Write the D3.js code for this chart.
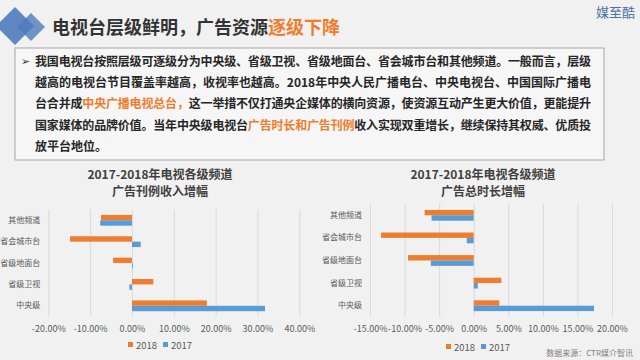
<!DOCTYPE html>
<head>
  <meta charset="utf-8">
  <script src="https://d3js.org/d3.v7.min.js"></script>
  <style>
    body { margin: 0; padding: 0; background: #f1f1f1; }
    svg { display: block; font-family: "Noto Sans CJK SC", "Noto Sans", sans-serif; }
  </style>
</head>
<body>
  <script>
    // channel levels, top to bottom as drawn
    var categories = ['其他频道', '省会城市台', '省级地面台', '省级卫视', '中央级'],
      seriesNames = ['2018', '2017'],
      colors = ['#ed7d31', '#5b9bd5'];

    // 广告刊例收入增幅 (%)
    var revenue2018 = [-7.4, -14.8, -4.5, 5.1, 17.9],
      revenue2017 = [-7.6, 2.1, 0.2, -0.6, 31.8],
      revenueTicks = [-20, -10, 0, 10, 20, 30, 40];

    // 广告总时长增幅 (%)
    var duration2018 = [-7.1, -13.4, -9.5, 4.0, 3.7],
      duration2017 = [-6.1, -1.0, -6.2, 0.6, 17.4],
      durationTicks = [-15, -10, -5, 0, 5, 10, 15, 20];

    var headline = [['电视台层级鲜明，广告资源', '#333'], ['逐级下降', '#f07d2e']];
    var bodyLines = [
      [['我国电视台按照层级可逐级分为中央级、省级卫视、省级地面台、省会城市台和其他频道。一般而言，层级', 0]],
      [['越高的电视台节目覆盖率越高，收视率也越高。2018年中央人民广播电台、中央电视台、中国国际广播电', 0]],
      [['台合并成', 0], ['中央广播电视总台，', 1], ['这一举措不仅打通央企媒体的横向资源，使资源互动产生更大价值，更能提升', 0]],
      [['国家媒体的品牌价值。当年中央级电视台', 0], ['广告时长和广告刊例', 1], ['收入实现双重增长，继续保持其权威、优质投', 0]],
      [['放平台地位。', 0]]
    ];

    var svg = d3.select('body').append('svg')
      .attr('width', 640)
      .attr('height', 360);

    svg.append('rect').attr('width', 640).attr('height', 360).attr('fill', '#f1f1f1');

    // header diamonds
    var diamond = function (cx, cy, r) {
      return 'M' + cx + ',' + (cy - r) + 'L' + (cx + r) + ',' + cy + 'L' + cx + ',' + (cy + r) + 'L' + (cx - r) + ',' + cy + 'Z';
    };
    svg.append('path').attr('d', diamond(15, 26, 19)).attr('fill', '#4f7bbd').attr('opacity', 0.9);
    svg.append('path').attr('d', diamond(31, 27, 14)).attr('fill', '#4f7bbd').attr('opacity', 0.8);

    var head = svg.append('text')
      .attr('x', 52).attr('y', 34)
      .attr('font-size', 18).attr('font-weight', 'bold');
    head.selectAll('tspan').data(headline).enter().append('tspan')
      .attr('fill', function (d) { return d[1]; })
      .text(function (d) { return d[0]; });

    svg.append('text')
      .attr('x', 635).attr('y', 17)
      .attr('text-anchor', 'end')
      .attr('font-size', 13)
      .attr('fill', '#4a70a8')
      .text('媒至酷');

    // text box
    svg.append('rect')
      .attr('x', 15).attr('y', 48).attr('width', 589).attr('height', 112)
      .attr('fill', '#f6f6f6').attr('stroke', '#a6a6a6').attr('stroke-width', 1);

    svg.append('text')
      .attr('x', 21).attr('y', 65)
      .attr('font-size', 11).attr('fill', '#333')
      .text('➢');

    bodyLines.forEach(function (line, i) {
      var t = svg.append('text')
        .attr('x', 35).attr('y', 65.5 + i * 21.4)
        .attr('font-size', 12).attr('font-weight', 'bold')
        .attr('fill', '#262626');
      if (i < bodyLines.length - 1) t.attr('textLength', 556).attr('lengthAdjust', 'spacing');
      t.selectAll('tspan').data(line).enter().append('tspan')
        .attr('fill', function (d) { return d[1] ? '#f07d2e' : '#262626'; })
        .text(function (d) { return d[0]; });
    });

    function drawChart(opt) {
      var g = svg.append('g');
      var x = d3.scaleLinear().domain(opt.domain).range([opt.left, opt.right]);
      var y = d3.scaleBand().domain(categories).range([opt.top, opt.bottom]);
      var inner = d3.scaleBand().domain(seriesNames).range([-5.4, 5.4]);

      // title
      opt.title.forEach(function (s, i) {
        g.append('text')
          .attr('x', opt.titleX).attr('y', 179 + i * 17)
          .attr('text-anchor', 'middle')
          .attr('font-size', 12).attr('font-weight', 'bold')
          .attr('fill', '#404040')
          .text(s);
      });

      // gridlines
      g.append('g')
        .attr('transform', 'translate(0,' + opt.bottom + ')')
        .call(d3.axisBottom(x).tickValues(opt.ticks).tickSize(-(opt.bottom - opt.top)).tickFormat(''))
        .call(function (a) {
          a.select('.domain').remove();
          a.selectAll('line').attr('stroke', '#d9d9d9');
        });

      // tick labels
      g.append('g')
        .attr('transform', 'translate(0,' + (opt.bottom + 6) + ')')
        .call(d3.axisBottom(x).tickValues(opt.ticks).tickSize(0)
          .tickFormat(function (d) { return d.toFixed(2) + '%'; }))
        .call(function (a) {
          a.select('.domain').remove();
          a.selectAll('text').attr('font-size', 9).attr('fill', '#595959')
            .attr('font-family', '"Noto Sans CJK SC", sans-serif');
        });

      // category labels
      g.append('g')
        .attr('transform', 'translate(' + opt.left + ',0)')
        .call(d3.axisLeft(y).tickSize(0).tickPadding(8))
        .call(function (a) {
          a.select('.domain').remove();
          a.selectAll('text').attr('font-size', 8).attr('fill', '#595959')
            .attr('font-family', '"Noto Sans CJK SC", sans-serif');
        });

      // bars
      opt.series.forEach(function (vals, si) {
        g.append('g').selectAll('rect')
          .data(vals)
          .enter().append('rect')
          .attr('x', function (d) { return x(Math.min(0, d)); })
          .attr('width', function (d) { return Math.abs(x(d) - x(0)); })
          .attr('y', function (d, i) { return y(categories[i]) + y.bandwidth() / 2 + inner(seriesNames[si]); })
          .attr('height', inner.bandwidth())
          .attr('fill', colors[si]);
      });

      // legend
      var lg = g.append('g').attr('transform', 'translate(' + opt.legendX + ',' + opt.legendY + ')');
      seriesNames.forEach(function (s, i) {
        lg.append('rect').attr('x', i * 35).attr('y', -3).attr('width', 5).attr('height', 5).attr('fill', colors[i]);
        lg.append('text').attr('x', i * 35 + 8).attr('y', 3.5)
          .attr('font-size', 9.5).attr('fill', '#595959').text(s);
      });
    }

    drawChart({
      domain: [-20, 40], ticks: revenueTicks,
      left: 48.3, right: 299.3, top: 209.6, bottom: 316.5,
      title: ['2017-2018年电视各级频道', '广告刊例收入增幅'], titleX: 160,
      series: [revenue2018, revenue2017],
      legendX: 128, legendY: 345
    });

    drawChart({
      domain: [-15, 20], ticks: durationTicks,
      left: 370, right: 612, top: 204, bottom: 317,
      title: ['2017-2018年电视各级频道', '广告总时长增幅'], titleX: 483,
      series: [duration2018, duration2017],
      legendX: 446, legendY: 347
    });

    svg.append('text')
      .attr('x', 633).attr('y', 356)
      .attr('text-anchor', 'end')
      .attr('font-size', 8).attr('fill', '#808080')
      .text('数据来源：CTR媒介智讯');
  </script>
</body>
